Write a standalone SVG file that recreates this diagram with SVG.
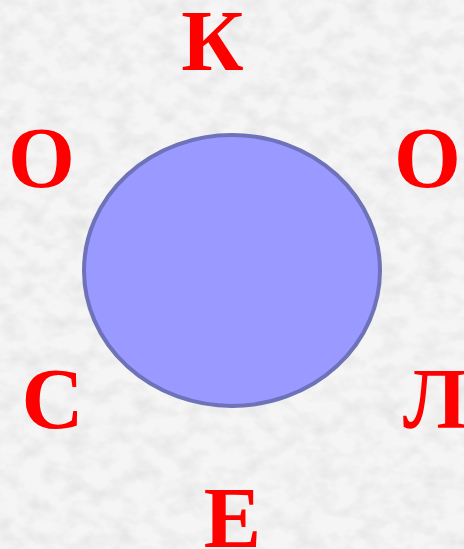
<svg xmlns="http://www.w3.org/2000/svg" width="464" height="549" viewBox="0 0 464 549">
<style>
.l{font-family:"Liberation Serif","Times New Roman",serif;font-weight:bold;font-size:86px;fill:#ff0000;text-anchor:middle}
</style>
<defs>
<filter id="tex" x="0" y="0" width="100%" height="100%">
<feTurbulence type="fractalNoise" baseFrequency="0.045 0.06" numOctaves="3" seed="7"/>
<feColorMatrix type="matrix" values="0 0 0 0 0.72  0 0 0 0 0.72  0 0 0 0 0.72  1.3 0 0 0 -0.5"/>
<feComposite in2="SourceGraphic" operator="over"/>
</filter>
</defs>
<g id="background">
<rect width="464" height="549" fill="#f5f5f5"/>
<rect width="464" height="549" fill="#f5f5f5" filter="url(#tex)"/>
</g>
<g id="circle">
<ellipse cx="232" cy="270.5" rx="148" ry="135.5" fill="#9999ff" stroke="#6e72b8" stroke-width="4"/>
</g>
<g id="letter-k"><text class="l" x="212.5" y="70">К</text></g>
<g id="letter-o-left"><text class="l" x="41.5" y="187">О</text></g>
<g id="letter-o-right"><text class="l" x="427.5" y="187">О</text></g>
<g id="letter-s"><text class="l" x="52.5" y="428">С</text></g>
<g id="letter-l"><text class="l" x="435" y="428">Л</text></g>
<g id="letter-e"><text class="l" x="232.5" y="547">Е</text></g>
</svg>
